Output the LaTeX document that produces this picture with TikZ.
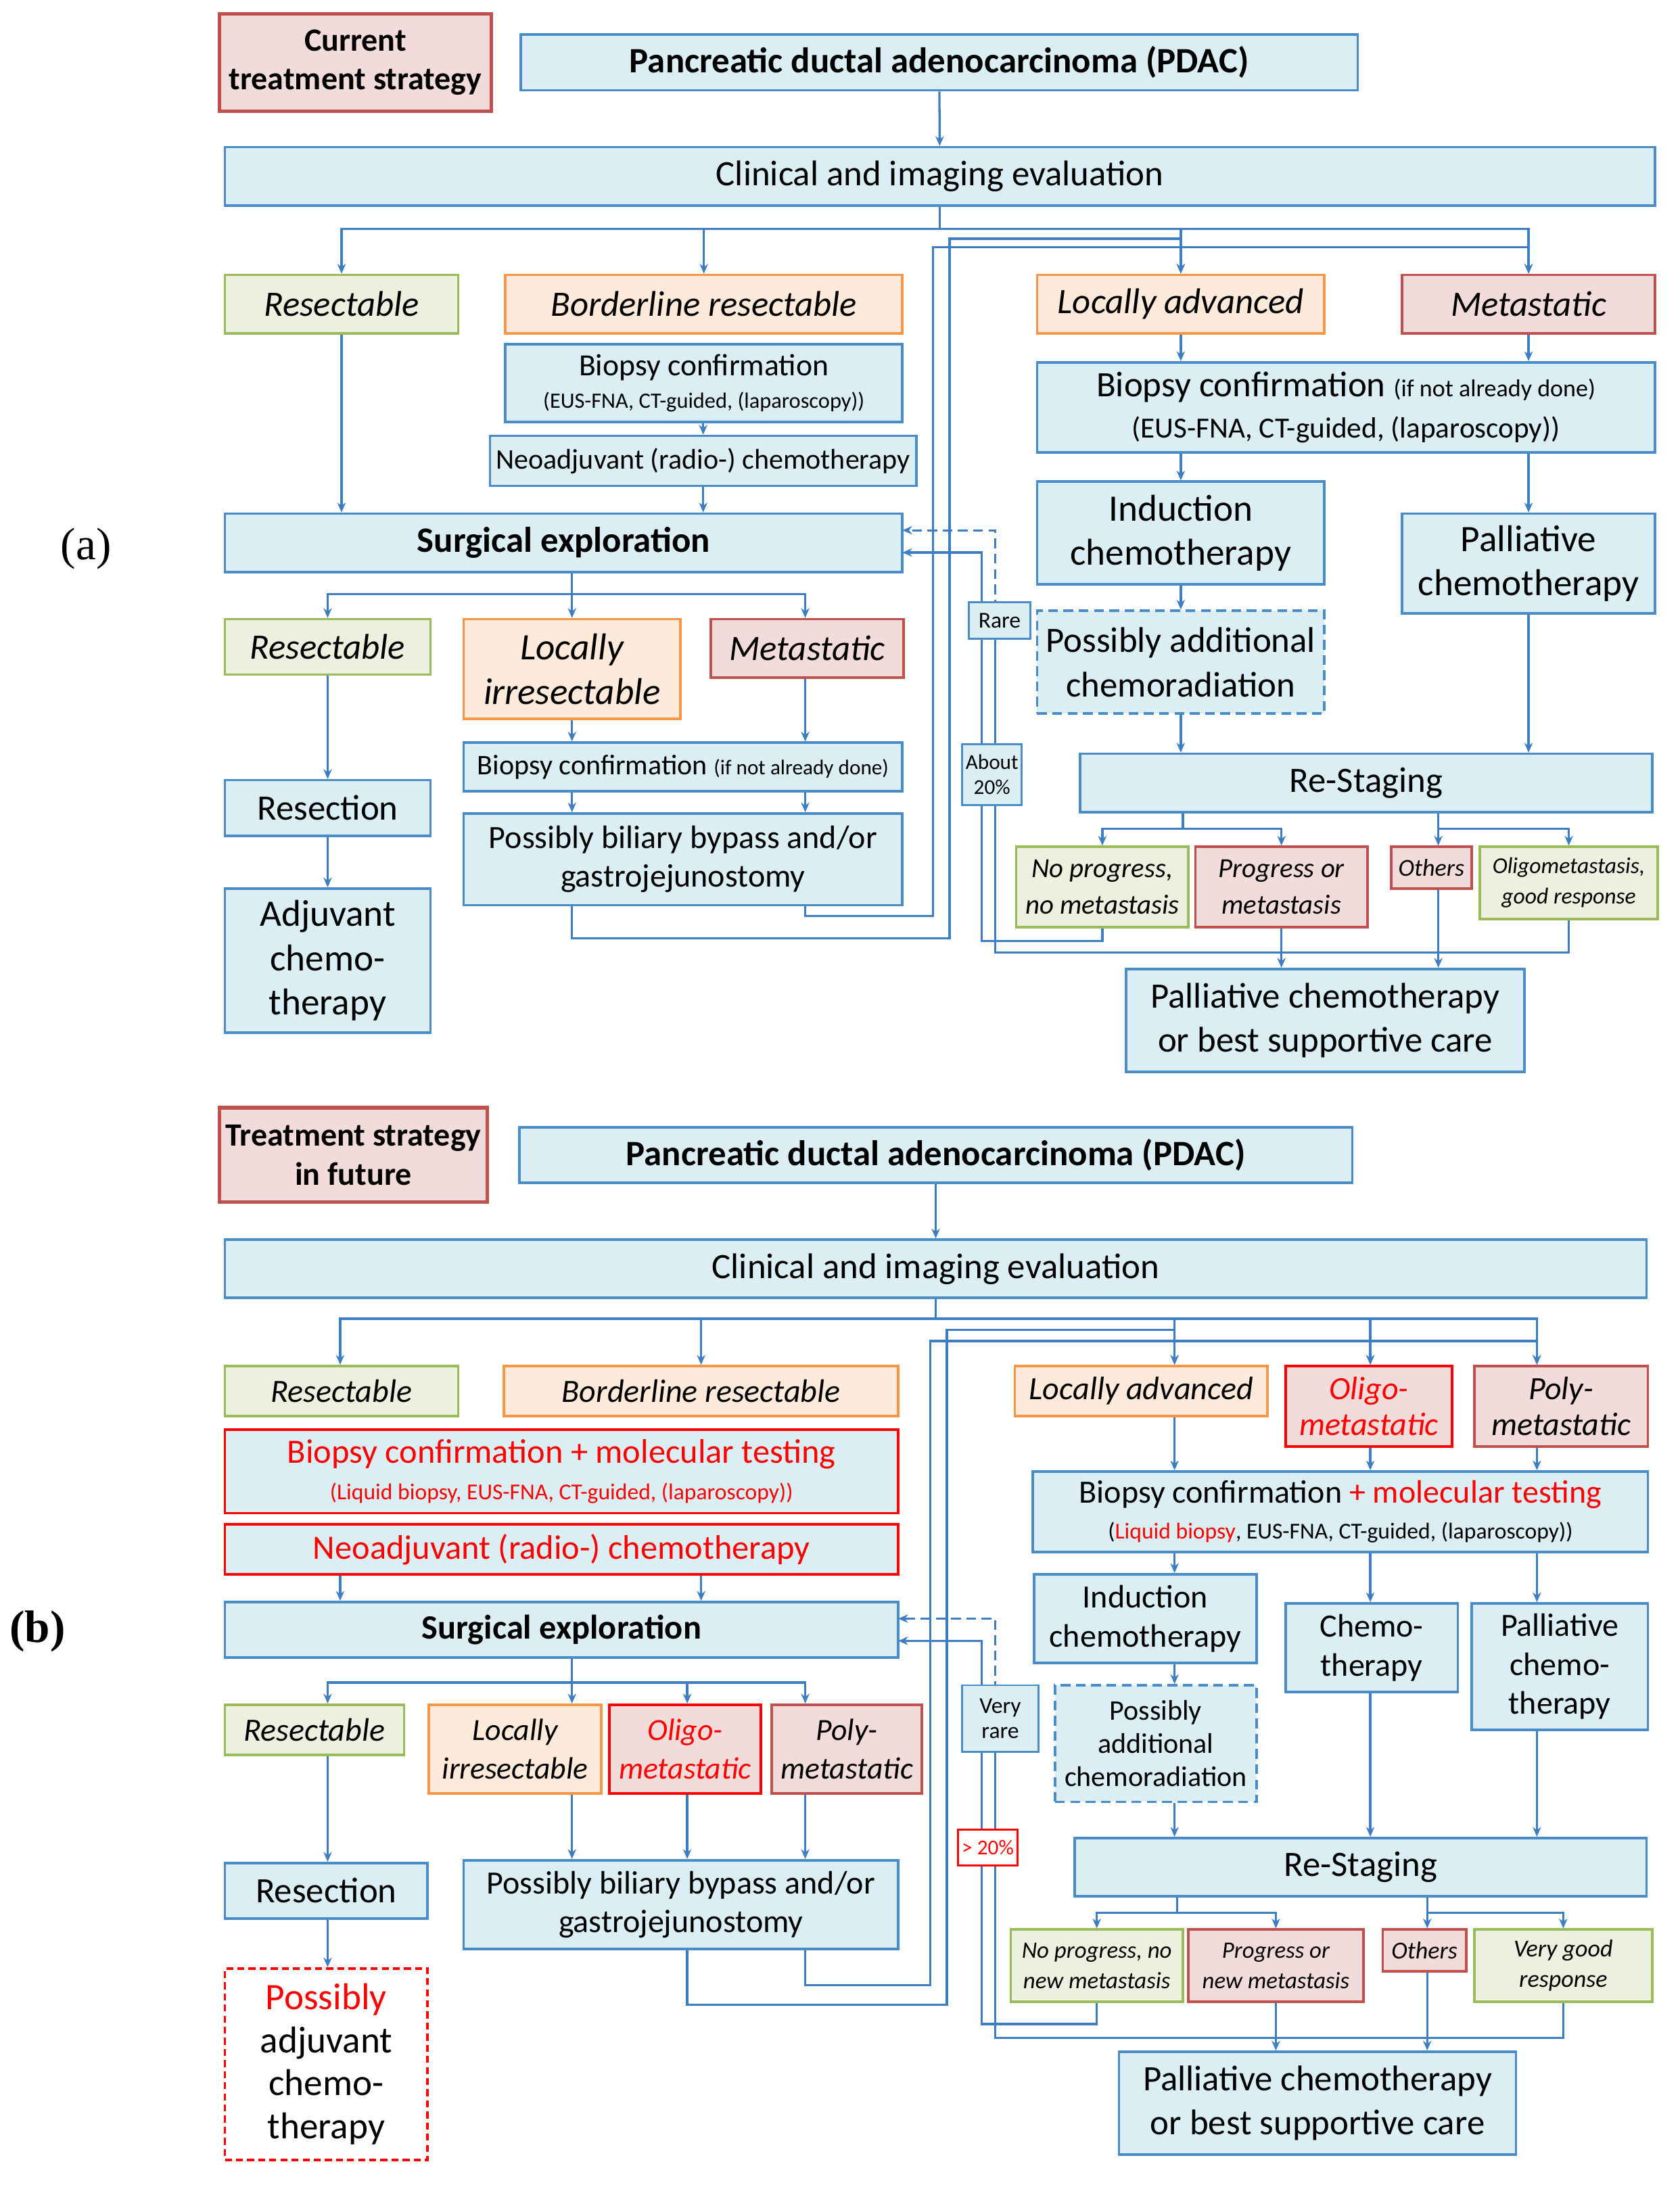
\documentclass[tikz,border=0pt]{standalone}
\usepackage{fontspec}
\setmainfont{Carlito}
\newfontfamily\ser{Liberation Serif}
\usetikzlibrary{arrows.meta}
\definecolor{bfill}{HTML}{DAEEF3}
\definecolor{bbord}{HTML}{4A8CC8}
\definecolor{lcol}{HTML}{3C7DC4}
\definecolor{gfill}{HTML}{EBF1DE}
\definecolor{gbord}{HTML}{9BBB59}
\definecolor{ofill}{HTML}{FDEADA}
\definecolor{obord}{HTML}{F79646}
\definecolor{rfill}{HTML}{F2DCDB}
\definecolor{rbord}{HTML}{C0504D}
\newcommand\fs[2]{\fontsize{\fpeval{#1*1.17}}{#2}\selectfont}
\newcommand\B[7]{\node[#6,minimum width={(#4-#2)*1pt},minimum height={(#5-#3)*1pt}] (#1) at ({(#2+#4)/2},{(#3+#5)/2}) {#7};}
\tikzset{
 bx/.style={draw=bbord,fill=bfill,line width=1.8pt,inner sep=1pt,align=center,font=\fs{22}{26}},
 dsh/.style={dash pattern=on 7pt off 4pt},
 bxd/.style={bx,dsh},
 bxr/.style={bx,draw=red},
 gr/.style={bx,draw=gbord,fill=gfill,font=\fs{22}{26}\itshape},
 or/.style={bx,draw=obord,fill=ofill,font=\fs{22}{26}\itshape},
 rd/.style={bx,draw=rbord,fill=rfill,font=\fs{22}{26}\itshape},
 rdr/.style={rd,draw=red},
 rdb/.style={bx,draw=rbord,fill=rfill,line width=2.6pt,font=\fs{20}{28}\bfseries},
 arr/.style={draw=lcol,line width=1.6pt,-{Stealth[length=7pt,width=6pt]}},
}
\begin{document}
\begin{tikzpicture}[x=1pt,y=-1pt]
\useasboundingbox (0,0) rectangle (1210,1574);
\foreach \c in {236,245,412,495,580,707,717,790,846,987,1107,1126,1031,1028}{\coordinate (c\c) at (\c,0);}
% ---------------- (a)
\node[font=\ser\fs{28}{34}] at (62,395) {(a)};
\B{cts}{158}{10}{354}{80}{rdb}{Current\\treatment strategy}
\B{pdacA}{375}{25}{978}{65}{bx,font=\fs{22}{26}\bfseries}{Pancreatic ductal adenocarcinoma (PDAC)}
\B{clinA}{162}{106}{1192}{148}{bx}{Clinical and imaging evaluation}
\B{resA}{162}{198}{330}{240}{gr}{Resectable}
\B{borA}{364}{198}{650}{240}{or}{Borderline resectable}
\B{bioA}{364}{248}{650}{304}{bx,font=\fs{19}{23}}{Biopsy confirmation\\{\fs{13.5}{18}(EUS-FNA, CT-guided, (laparoscopy))}}
\B{neoA}{353}{314}{660}{350}{bx,font=\fs{17.5}{22}}{Neoadjuvant (radio-) chemotherapy}
\B{laA}{747}{198}{954}{240}{or}{Locally advanced}
\B{metA}{1010}{198}{1192}{240}{rd}{Metastatic}
\B{bioRA}{747}{261}{1192}{326}{bx,font=\fs{22}{30}}{Biopsy confirmation {\fs{15}{18}(if not already done)}\\{\fs{18}{22}(EUS-FNA, CT-guided, (laparoscopy))}}
\B{indA}{747}{347}{954}{421}{bx,font=\fs{23}{32}}{Induction\\chemotherapy}
\B{palA}{1010}{370}{1192}{442}{bx,font=\fs{23}{32}}{Palliative\\chemotherapy}
\B{posA}{747}{440}{954}{514}{bxd,font=\fs{22}{32}}{Possibly additional\\chemoradiation}
\B{surA}{162}{370}{650}{412}{bx,font=\fs{22}{26}\bfseries}{Surgical exploration}
\B{res2A}{162}{446}{310}{486}{gr}{Resectable}
\B{liA}{334}{446}{490}{518}{or,font=\fs{23}{32}\itshape}{Locally\\irresectable}
\B{met2A}{512}{446}{651}{488}{rd}{Metastatic}
\B{bio2A}{334}{535}{650}{570}{bx,font=\fs{17.5}{22}}{Biopsy confirmation {\fs{13}{17}(if not already done)}}
\B{bypA}{334}{586}{650}{652}{bx,font=\fs{20}{28}}{Possibly biliary bypass and/or\\gastrojejunostomy}
\B{rsnA}{162}{562}{310}{602}{bx}{Resection}
\B{adjA}{162}{640}{310}{744}{bx,font=\fs{23}{32}}{Adjuvant\\chemo-\\therapy}
\B{rstA}{778}{543}{1190}{585}{bx}{Re-Staging}
\B{nopA}{732}{610}{856}{668}{gr,font=\fs{17}{26}\itshape}{No progress,\\no metastasis}
\B{proA}{861}{610}{985}{668}{rd,font=\fs{17}{26}\itshape}{Progress or\\metastasis}
\B{othA}{1002}{610}{1060}{640}{rd,font=\fs{15}{18}\itshape}{Others}
\B{oliA}{1066}{610}{1194}{662}{gr,font=\fs{14}{22}\itshape}{Oligometastasis,\\good response}
\B{bscA}{811}{698}{1098}{772}{bx,font=\fs{22}{32}}{Palliative chemotherapy\\or best supportive care}
% connectors (a)
\draw[arr] (pdacA) -- (clinA);
\coordinate (jA) at (677,165);
\foreach \n in {resA,borA,laA,metA}{\draw[arr] (clinA.south) -- (clinA.south |- jA) -| (\n.north);}
\draw[arr] (resA.south) -- (resA.south |- surA.north);
\draw[arr] (bioA.south -| neoA) -- (neoA.north);
\draw[arr] (neoA.south) -- (neoA.south |- surA.north);
\draw[arr] (laA.south) -- (laA.south |- bioRA.north);
\draw[arr] (metA.south) -- (metA.south |- bioRA.north);
\draw[arr] (indA.north |- bioRA.south) -- (indA.north);
\draw[arr] (palA.north |- bioRA.south) -- (palA.north);
\draw[arr] (indA.south) -- (posA.north);
\draw[arr] (posA.south) -- (posA.south |- rstA.north);
\draw[arr] (palA.south) -- (palA.south |- rstA.north);
\coordinate (r1A) at (852,597); \coordinate (r2A) at (1036,597);
\draw[arr] (rstA.south -| r1A) -- (r1A) -| (nopA.north);
\draw[arr] (r1A) -| (proA.north);
\draw[arr] (rstA.south -| r2A) -- (r2A) -| (oliA.north);
\draw[arr] (r2A) -- (othA.north -| r2A);
\draw[arr] (proA.south) -- (proA.south |- bscA.north);
\draw[arr] (othA.south -| r2A) -- (bscA.north -| r2A);
\coordinate (f1A) at (707,678); \coordinate (s1A) at (650,398);
\draw[arr] (nopA.south) |- (f1A) |- (s1A);
\coordinate (f2A) at (717,686); \coordinate (s2A) at (650,382); \coordinate (t2A) at (717,450);
\draw[draw=lcol,line width=1.6pt] (oliA.south) |- (f2A) -- (t2A);
\draw[arr,dsh] (t2A) |- (s2A);
\coordinate (g1A) at (684,676); \coordinate (h1A) at (684,172);
\draw[arr] (bypA.south -| c412) |- (g1A) -- (h1A) -| (laA.north);
\coordinate (g2A) at (672,660); \coordinate (h2A) at (672,178);
\draw[arr] (bypA.south -| c580) |- (g2A) -- (h2A) -| (metA.north);
\coordinate (kA) at (412,428);
\foreach \n/\c in {res2A/c236,liA/c412,met2A/c580}{\draw[arr] (surA.south -| kA) -- (kA) -| (\n.north -| \c);}
\draw[arr] (res2A.south -| c236) -- (rsnA.north -| c236);
\draw[arr] (rsnA.south -| c236) -- (adjA.north -| c236);
\draw[arr] (liA.south -| c412) -- (bio2A.north -| c412);
\draw[arr] (met2A.south -| c580) -- (bio2A.north -| c580);
\draw[arr] (bio2A.south -| c412) -- (bypA.north -| c412);
\draw[arr] (bio2A.south -| c580) -- (bypA.north -| c580);
\B{rareA}{698}{434}{742}{460}{bx,font=\fs{14}{17},line width=1.4pt}{Rare}
\B{abA}{693}{536}{736}{580}{bx,font=\fs{13}{18},line width=1.4pt}{About\\20\%}
% ---------------- (b)
\node[font=\ser\bfseries\fs{28}{34}] at (27,1175) {(b)};
\B{tsf}{158}{798}{351}{866}{rdb}{Treatment strategy\\in future}
\B{pdacB}{374}{812}{974}{852}{bx,font=\fs{22}{26}\bfseries}{Pancreatic ductal adenocarcinoma (PDAC)}
\B{clinB}{162}{893}{1186}{935}{bx}{Clinical and imaging evaluation}
\B{resB}{162}{984}{330}{1020}{gr,font=\fs{20}{24}\itshape}{Resectable}
\B{borB}{363}{984}{647}{1020}{or,font=\fs{20}{24}\itshape}{Borderline resectable}
\B{bioB}{162}{1030}{647}{1090}{bxr,font=\fs{21}{26}}{\color{red}Biopsy confirmation + molecular testing\\{\fs{14}{18}\color{red}(Liquid biopsy, EUS-FNA, CT-guided, (laparoscopy))}}
\B{neoB}{162}{1098}{647}{1134}{bxr,font=\fs{21}{26}}{\color{red}Neoadjuvant (radio-) chemotherapy}
\B{laB}{731}{984}{913}{1020}{or,font=\fs{20}{24}\itshape}{Locally advanced}
\B{oliB}{926}{984}{1046}{1042}{rdr,font=\fs{20}{26}\itshape\color{red}}{Oligo-\\metastatic}
\B{polB}{1062}{984}{1187}{1042}{rd,font=\fs{20}{26}\itshape}{Poly-\\metastatic}
\B{bioRB}{744}{1060}{1187}{1118}{bx,font=\fs{20}{26}}{Biopsy confirmation {\color{red}+ molecular testing}\\{\fs{14}{18}({\color{red}Liquid biopsy}, EUS-FNA, CT-guided, (laparoscopy))}}
\B{indB}{745}{1134}{905}{1198}{bx,font=\fs{20}{28}}{Induction\\chemotherapy}
\B{cheB}{926}{1155}{1050}{1219}{bx,font=\fs{20}{28}}{Chemo-\\therapy}
\B{palB}{1060}{1155}{1187}{1246}{bx,font=\fs{20}{28}}{Palliative\\chemo-\\therapy}
\B{posB}{760}{1214}{905}{1298}{bxd,font=\fs{17.5}{24}}{Possibly\\additional\\chemoradiation}
\B{surB}{162}{1154}{647}{1194}{bx,font=\fs{21}{26}\bfseries}{Surgical exploration}
\B{res2B}{162}{1228}{291}{1264}{gr,font=\fs{20}{24}\itshape}{Resectable}
\B{liB}{309}{1228}{433}{1292}{or,font=\fs{19}{28}\itshape}{Locally\\irresectable}
\B{oli2B}{439}{1228}{548}{1292}{rdr,font=\fs{19}{28}\itshape\color{red}}{Oligo-\\metastatic}
\B{pol2B}{556}{1228}{664}{1292}{rd,font=\fs{19}{28}\itshape}{Poly-\\metastatic}
\B{bypB}{334}{1340}{647}{1404}{bx,font=\fs{20}{28}}{Possibly biliary bypass and/or\\gastrojejunostomy}
\B{rsnB}{162}{1342}{308}{1382}{bx}{Resection}
\B{adjB}{162}{1418}{308}{1556}{bx,draw=red,dash pattern=on 5pt off 3pt,fill=white,font=\fs{23}{31}}{{\color{red}Possibly}\\adjuvant\\chemo-\\therapy}
\B{rstB}{774}{1324}{1186}{1366}{bx}{Re-Staging}
\B{nopB}{728}{1390}{852}{1442}{gr,font=\fs{14.5}{22}\itshape}{No progress, no\\new metastasis}
\B{proB}{856}{1390}{982}{1442}{rd,font=\fs{14.5}{22}\itshape}{Progress or\\new metastasis}
\B{othB}{996}{1390}{1056}{1420}{rd,font=\fs{15}{18}\itshape}{Others}
\B{vgB}{1062}{1390}{1190}{1442}{gr,font=\fs{15}{22}\itshape}{Very good\\response}
\B{bscB}{806}{1478}{1092}{1552}{bx,font=\fs{22}{32}}{Palliative chemotherapy\\or best supportive care}
% connectors (b)
\draw[arr] (pdacB) -- (clinB);
\coordinate (jB) at (675,950);
\foreach \n/\c in {resB/c245,borB/borB,laB/c846,oliB/c987,polB/c1107}{\draw[arr] (clinB.south) -- (clinB.south |- jB) -| (\n.north -| \c);}
\draw[arr] (neoB.south -| c245) -- (surB.north -| c245);
\draw[arr] (neoB.south -| borB) -- (surB.north -| borB);
\draw[arr] (laB.south -| c846) -- (bioRB.north -| c846);
\draw[arr] (oliB.south -| c987) -- (bioRB.north -| c987);
\draw[arr] (polB.south -| c1107) -- (bioRB.north -| c1107);
\draw[arr] (bioRB.south -| c846) -- (indB.north -| c846);
\draw[arr] (bioRB.south -| c987) -- (cheB.north -| c987);
\draw[arr] (bioRB.south -| c1107) -- (palB.north -| c1107);
\draw[arr] (indB.south -| c846) -- (posB.north -| c846);
\draw[arr] (posB.south -| c846) -- (rstB.north -| c846);
\draw[arr] (cheB.south -| c987) -- (rstB.north -| c987);
\draw[arr] (palB.south -| c1107) -- (rstB.north -| c1107);
\coordinate (r1B) at (848,1378); \coordinate (r2B) at (1028,1378);
\draw[arr] (rstB.south -| r1B) -- (r1B) -| (nopB.north);
\draw[arr] (r1B) -| (proB.north);
\draw[arr] (rstB.south -| r2B) -- (r2B) -| (vgB.north);
\draw[arr] (r2B) -- (othB.north -| r2B);
\draw[arr] (proB.south) -- (proB.south |- bscB.north);
\draw[arr] (othB.south -| r2B) -- (bscB.north -| r2B);
\coordinate (f1B) at (707,1458); \coordinate (s1B) at (647,1182);
\draw[arr] (nopB.south) |- (f1B) |- (s1B);
\coordinate (f2B) at (717,1468); \coordinate (s2B) at (647,1166); \coordinate (t2B) at (717,1240);
\draw[draw=lcol,line width=1.6pt] (vgB.south) |- (f2B) -- (t2B);
\draw[arr,dsh] (t2B) |- (s2B);
\coordinate (g1B) at (682,1444); \coordinate (h1B) at (682,958);
\draw[arr] (bypB.south -| c495) |- (g1B) -- (h1B) -| (laB.north -| c846);
\coordinate (g2B) at (670,1430); \coordinate (h2B) at (670,966);
\draw[arr] (bypB.south -| c580) |- (g2B) -- (h2B) -| (polB.north -| c1107);
\draw[arr] (h2B) -| (oliB.north -| c987);
\coordinate (kB) at (412,1212);
\foreach \n/\c in {res2B/c236,liB/c412,oli2B/c495,pol2B/c580}{\draw[arr] (surB.south -| kB) -- (kB) -| (\n.north -| \c);}
\draw[arr] (res2B.south -| c236) -- (rsnB.north -| c236);
\draw[arr] (rsnB.south -| c236) -- (adjB.north -| c236);
\foreach \n/\c in {liB/c412,oli2B/c495,pol2B/c580}{\draw[arr] (\n.south -| \c) -- (bypB.north -| \c);}
\B{vrB}{693}{1214}{748}{1262}{bx,font=\fs{14}{18},line width=1.4pt}{Very\\rare}
\B{gtB}{690}{1318}{733}{1344}{bxr,fill=white,font=\fs{13}{16}\color{red},line width=1.4pt}{> 20\%}
\end{tikzpicture}
\end{document}
